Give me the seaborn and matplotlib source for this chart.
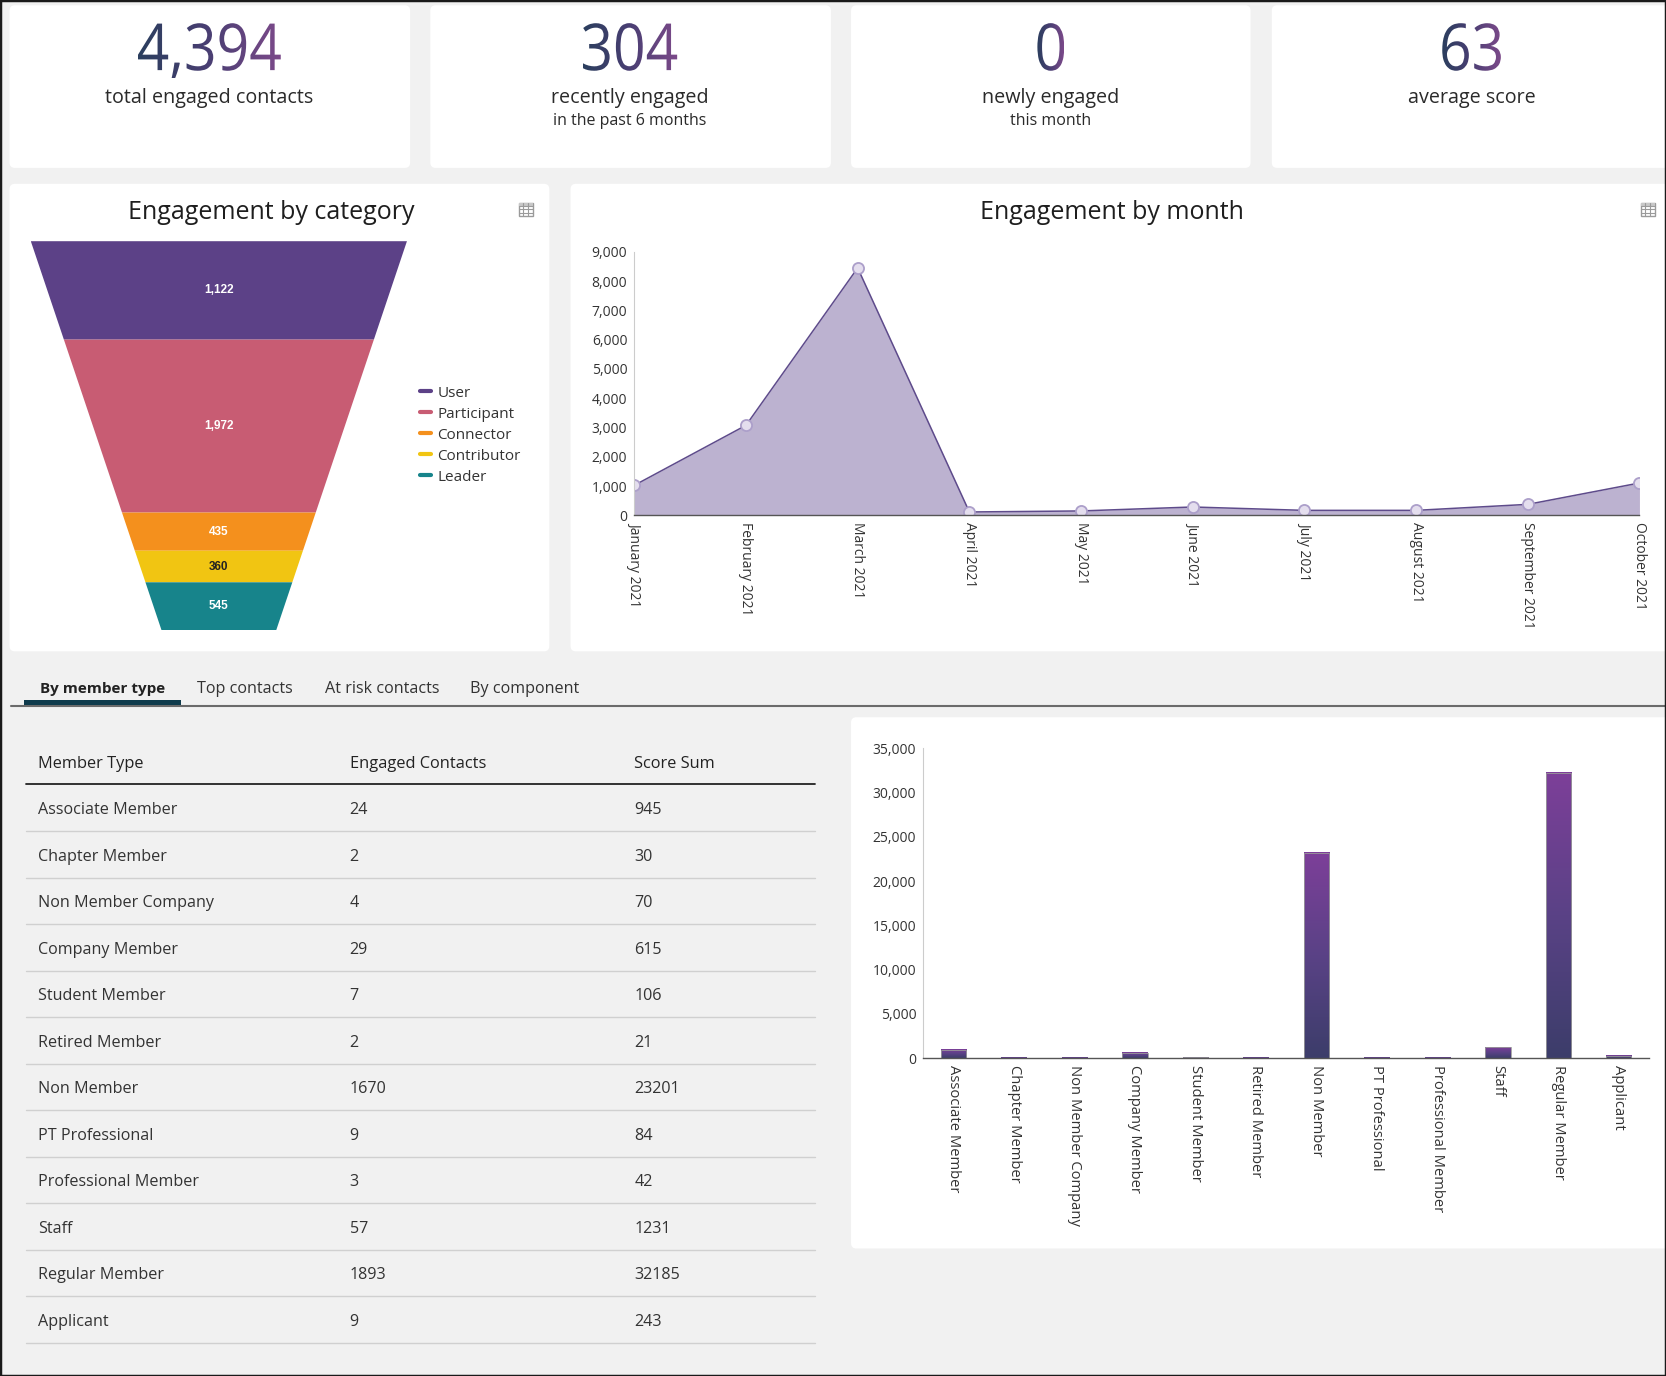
import numpy as np
import matplotlib
matplotlib.use('Agg')
import matplotlib.pyplot as plt
import seaborn as sns
from matplotlib.patches import FancyBboxPatch, Rectangle, PathPatch
from matplotlib.lines import Line2D
from matplotlib.textpath import TextPath
from matplotlib.font_manager import FontProperties
from matplotlib.transforms import Affine2D
from matplotlib.ticker import FuncFormatter
from matplotlib.colors import LinearSegmentedColormap

sns.set_theme(style='white')
plt.rcParams['font.family'] = ['Open Sans', 'DejaVu Sans']

# ---- data ----
kpi_values = ['4,394', '304', '0', '63']
kpi_labels = ['total engaged contacts', 'recently engaged', 'newly engaged', 'average score']
kpi_sublabels = ['', 'in the past 6 months', 'this month', '']

funnel_stages = ['User', 'Participant', 'Connector', 'Contributor', 'Leader']
funnel_values = [1122, 1972, 435, 360, 545]
funnel_colors = ['#5c4187', '#c85c73', '#f4901d', '#f1c512', '#17848b']

months = ['January 2021', 'February 2021', 'March 2021', 'April 2021', 'May 2021',
          'June 2021', 'July 2021', 'August 2021', 'September 2021', 'October 2021']
month_values = [1025, 3075, 8450, 115, 150, 285, 170, 170, 375, 1105]

tabs = ['By member type', 'Top contacts', 'At risk contacts', 'By component']
table_columns = ['Member Type', 'Engaged Contacts', 'Score Sum']
member_types = ['Associate Member', 'Chapter Member', 'Non Member Company', 'Company Member',
                'Student Member', 'Retired Member', 'Non Member', 'PT Professional',
                'Professional Member', 'Staff', 'Regular Member', 'Applicant']
engaged_contacts = [24, 2, 4, 29, 7, 2, 1670, 9, 3, 57, 1893, 9]
score_sum = [945, 30, 70, 615, 106, 21, 23201, 84, 42, 1231, 32185, 243]

# ---- layout helpers (reference pixel grid) ----
W, H = 1568, 1295
fig = plt.figure(figsize=(16.66, 13.76), dpi=100)
fig.patch.set_facecolor('#f1f1f1')


def box(x0, y0, x1, y1):
    return [x0 / W, 1 - y1 / H, (x1 - x0) / W, (y1 - y0) / H]


bg = fig.add_axes([0, 0, 1, 1])
bg.set_xlim(0, W)
bg.set_ylim(H, 0)
bg.axis('off')


def card(x0, y0, x1, y1):
    bg.add_patch(FancyBboxPatch((x0, y0), x1 - x0, y1 - y0,
                                boxstyle='round,pad=0,rounding_size=5',
                                fc='white', ec='none', zorder=1))


def table_icon(x, y):
    w, h = 14, 12
    bg.add_patch(Rectangle((x, y), w, h, fc='none', ec='#9a9a9a', lw=1, zorder=2))
    bg.add_patch(Rectangle((x, y), w, h / 4, fc='#c8c8c8', ec='none', zorder=2))
    for i in (1, 2):
        bg.plot([x + i * w / 3] * 2, [y, y + h], color='#9a9a9a', lw=0.8, zorder=2)
    for j in (1, 2, 3):
        bg.plot([x, x + w], [y + j * h / 4] * 2, color='#9a9a9a', lw=0.8, zorder=2)


grad_cmap = LinearSegmentedColormap.from_list('kpi', ['#2b3e5e', '#4a3f73', '#7c4a8a'])
num_font = FontProperties(family='Open Sans')


def gradient_number(text, cx, base, sx=0.88):
    tp = TextPath((0, 0), text, size=61, prop=num_font)
    ext = tp.get_extents()
    half = ext.width * sx / 2
    tr = Affine2D().translate(-(ext.x0 + ext.width / 2), 0).scale(sx, -1).translate(cx, base)
    patch = PathPatch(tp, transform=tr + bg.transData, fc='none', ec='none', zorder=3)
    bg.add_patch(patch)
    im = bg.imshow(np.linspace(0, 1, 256).reshape(1, -1), cmap=grad_cmap,
                   extent=(cx - half, cx + half, base - ext.y0, base - ext.y1),
                   aspect='auto', interpolation='bilinear', zorder=3)
    im.set_clip_path(patch)


# ---- KPI cards ----
kpi_boxes = [(9, 5, 386, 158), (405, 5, 782, 158), (801, 5, 1177, 158), (1197, 5, 1580, 158)]
kpi_centers = [197, 593, 989, 1385]
for b in kpi_boxes:
    card(*b)
for val, lab, sub, cx in zip(kpi_values, kpi_labels, kpi_sublabels, kpi_centers):
    gradient_number(val, cx, 66)
    bg.text(cx, 92, lab, ha='center', va='center', fontsize=14.2, color='#2a2a2a', zorder=3)
    if sub:
        bg.text(cx, 113.5, sub, ha='center', va='center', fontsize=11.5, color='#2a2a2a', zorder=3)

# ---- chart cards ----
card(9, 173, 517, 613)
card(537, 173, 1580, 613)
card(801, 675, 1580, 1175)
bg.text(255, 200, 'Engagement by category', ha='center', va='center', fontsize=18,
        fontweight=500, color='#1e1e1e', zorder=3)
bg.text(1047, 200, 'Engagement by month', ha='center', va='center', fontsize=18,
        fontweight=500, color='#1e1e1e', zorder=3)
table_icon(488, 191)
table_icon(1544, 191)

# ---- tabs ----
tab_x = [38, 185, 306, 442]
for i, (t, x) in enumerate(zip(tabs, tab_x)):
    bg.text(x, 648, t, ha='left', va='center', fontsize=11 if i == 0 else 11.6,
            color='#222' if i == 0 else '#333',
            fontweight='bold' if i == 0 else 'normal', zorder=3)
bg.plot([10, W], [664, 664], color='#6b6b6b', lw=1.5, zorder=2)
bg.add_patch(Rectangle((23, 659), 147, 4.5, fc='#0f3b4c', ec='none', zorder=3))

# ---- table ----
col_x = [36, 329, 597]
for c, x in zip(table_columns, col_x):
    bg.text(x, 719, c, ha='left', va='center', fontsize=11.8, color='#222', zorder=3)
bg.plot([24, 767], [738, 738], color='#222', lw=1.3, zorder=2)
row_step = 43.75
for i, (m, e, s) in enumerate(zip(member_types, engaged_contacts, score_sum)):
    y = 760.5 + i * row_step
    bg.text(col_x[0], y + 2, m, ha='left', va='center', fontsize=11.6, color='#333', zorder=3)
    bg.text(col_x[1], y + 2, str(e), ha='left', va='center', fontsize=11.6, color='#333', zorder=3)
    bg.text(col_x[2], y + 2, str(s), ha='left', va='center', fontsize=11.6, color='#333', zorder=3)
    bg.plot([24, 767], [y + 22, y + 22], color='#d0d0d0', lw=1, zorder=2)

# frame around the screenshot
bg.add_patch(Rectangle((0, 0), W, H, fill=False, ec='#1a1a1a', lw=2.5, clip_on=False, zorder=5))
bg.set_xlim(0, W)
bg.set_ylim(H, 0)

# ---- funnel ----
fax = fig.add_axes(box(29, 227, 383, 593))
total = sum(funnel_values)
neck = 108 / 354
cum = np.concatenate([[0], np.cumsum(funnel_values)])


def half_width(c):
    return 1 - (1 - neck) * c / total


for i, (v, col) in enumerate(zip(funnel_values, funnel_colors)):
    c0, c1 = cum[i], cum[i + 1]
    fax.fill([-half_width(c0), half_width(c0), half_width(c1), -half_width(c1)],
             [c0, c0, c1, c1], color=col, lw=0)
    fax.text(0, (c0 + c1) / 2, f'{v:,}', ha='center', va='center', fontsize=8.5,
             fontweight='bold', family='Liberation Sans',
             color='#222' if funnel_stages[i] == 'Contributor' else 'white')
fax.set_xlim(-1, 1)
fax.set_ylim(total, 0)
fax.axis('off')

handles = [Line2D([0], [0], color=c, lw=3) for c in funnel_colors]
fig.legend(handles, funnel_stages, loc='center left', bbox_to_anchor=(395 / W, 1 - 409.5 / H),
           frameon=False, fontsize=11, handlelength=0.75, handletextpad=0.4,
           labelspacing=0.39, borderpad=0, borderaxespad=0, labelcolor='#333')

# ---- engagement by month ----
max_ = fig.add_axes(box(597, 237, 1543, 485))
max_.set_facecolor('none')
xm = np.arange(len(months))
max_.fill_between(xm, month_values, color='#bcb2d0', lw=0)
sns.lineplot(x=xm, y=month_values, ax=max_, color='#5e4b8b', lw=1.1, marker='o', markersize=8,
             markerfacecolor='#e4deee', markeredgecolor='#ac9fca', markeredgewidth=1.3)
max_.set_xlim(0, len(months) - 1)
max_.set_ylim(0, 9000)
max_.set_yticks(range(0, 9001, 1000))
max_.yaxis.set_major_formatter(FuncFormatter(lambda v, p: f'{int(v):,}'))
max_.set_xticks(xm)
max_.set_xticklabels(months, rotation=-90, rotation_mode='anchor', ha='left', va='center')
max_.tick_params(axis='both', length=0, labelsize=10, labelcolor='#333')
max_.tick_params(axis='y', pad=5)
max_.tick_params(axis='x', pad=5)
for s in ('top', 'right'):
    max_.spines[s].set_visible(False)
max_.spines['left'].set_color('#cccccc')
max_.spines['left'].set_linewidth(0.8)
max_.spines['bottom'].set_color('#555555')
max_.spines['bottom'].set_linewidth(1)
max_.set_xlabel('')
max_.set_ylabel('')

# ---- score sum by member type ----
bax = fig.add_axes(box(869, 704, 1552, 996))
bax.set_facecolor('none')
sns.barplot(x=member_types, y=score_sum, ax=bax, width=0.42, color='#5a4286',
            edgecolor='#9a9a9a', linewidth=0.6)
bar_cmap = LinearSegmentedColormap.from_list('bar', ['#3c3d6a', '#5a4286', '#7d3f99'])
for p in bax.patches:
    x0, w, h = p.get_x(), p.get_width(), p.get_height()
    bax.imshow(np.linspace(0, 1, 256).reshape(-1, 1), cmap=bar_cmap, origin='lower',
               extent=(x0, x0 + w, 0, h), aspect='auto', interpolation='bilinear', zorder=1)
    p.set_facecolor('none')
    p.set_zorder(2)
bax.set_aspect('auto')
bax.set_xlim(-0.5, len(member_types) - 0.5)
bax.set_ylim(0, 35000)
bax.set_yticks(range(0, 35001, 5000))
bax.yaxis.set_major_formatter(FuncFormatter(lambda v, p: f'{int(v):,}'))
bax.set_xticks(range(len(member_types)))
bax.set_xticklabels(member_types, rotation=-90, rotation_mode='anchor', ha='left', va='center')
bax.tick_params(axis='both', length=0, labelsize=10, labelcolor='#333')
bax.tick_params(axis='x', labelsize=10.6)
bax.tick_params(axis='y', pad=5)
bax.tick_params(axis='x', pad=5)
for s in ('top', 'right'):
    bax.spines[s].set_visible(False)
bax.spines['left'].set_color('#cccccc')
bax.spines['left'].set_linewidth(0.8)
bax.spines['bottom'].set_color('#555555')
bax.spines['bottom'].set_linewidth(1)
bax.set_xlabel('')
bax.set_ylabel('')

fig.savefig('out.png', dpi=100, facecolor=fig.get_facecolor())
